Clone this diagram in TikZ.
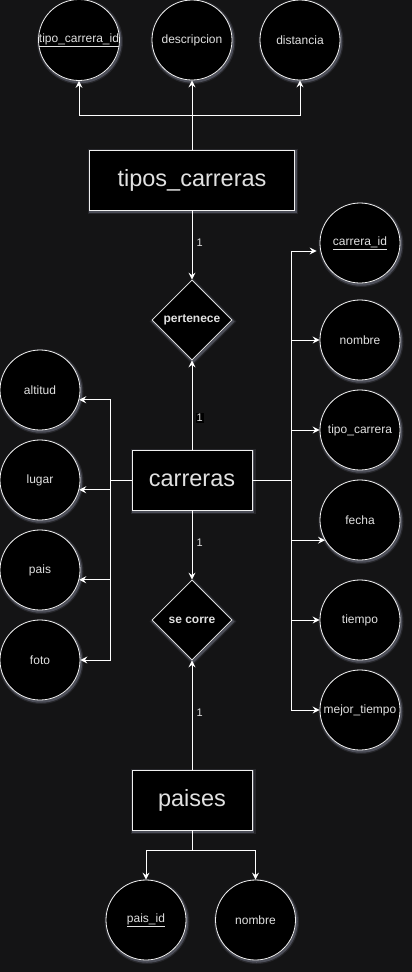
\documentclass[tikz,border=0pt]{standalone}
\usepackage{fontspec}
\setmainfont{Liberation Sans}
\usetikzlibrary{shapes.geometric,arrows.meta}
\definecolor{bgc}{RGB}{20,20,21}
\definecolor{txt}{RGB}{225,225,225}
\definecolor{strk}{RGB}{240,240,240}
\definecolor{glowc}{RGB}{170,175,200}
\begin{document}
\begin{tikzpicture}[x=1pt,y=-1pt,
 glow/.style={preaction={draw=glowc,line width=5pt,opacity=0.12,transform canvas={shift={(1pt,-1.5pt)}}},
              preaction={draw=glowc,line width=2.5pt,opacity=0.3,transform canvas={shift={(1pt,-1.5pt)}}}},
 attr/.style={glow,circle,draw=strk,fill=black,line width=0.8pt,minimum size=80pt,inner sep=0pt,text=txt,font=\fontsize{12}{14}\selectfont},
 ent/.style={glow,rectangle,draw=strk,fill=black,line width=0.8pt,minimum width=120pt,minimum height=60pt,inner sep=0pt,text=txt,font=\fontsize{23.5}{28}\selectfont},
 rel/.style={glow,diamond,aspect=1,draw=strk,fill=black,line width=0.8pt,minimum size=80pt,inner sep=0pt,text=txt,font=\bfseries\fontsize{12}{14}\selectfont},
 conn/.style={draw=white,line width=1pt},
 arr/.style={conn,-{Stealth[length=7pt,width=7pt,inset=2.5pt]}},
 card/.style={text=txt,font=\fontsize{11}{13}\selectfont,inner sep=1pt}
]
\fill[bgc] (0,0) rectangle (412,972);
\useasboundingbox (0,0) rectangle (412,972);

% top attributes
\node[attr] (tid) at (79,40) {\underline{tipo\_carrera\_id}};
\node[attr] (desc) at (192,40) {descripcion};
\node[attr] (dist) at (300,40) {distancia};
\node[ent,minimum width=205pt] (tc) at (192,180) {tipos\_carreras};
\coordinate (t1) at (192,115);

\node[rel] (pert) at (192,320) {pertenece};
\node[ent] (car) at (192,480) {carreras};
\node[rel] (sec) at (192,620) {se corre};
\node[ent] (pai) at (192,800) {paises};

% left attributes
\node[attr] (alt) at (40,390) {altitud};
\node[attr] (lug) at (40,480) {lugar};
\node[attr] (pais) at (40,570) {pais};
\node[attr] (foto) at (40,660) {foto};
\coordinate (L) at (110,480);

% right attributes
\node[attr] (cid) at (360,243) {\underline{carrera\_id}};
\node[attr] (nom) at (360,340) {nombre};
\node[attr] (tipc) at (360,430) {tipo\_carrera};
\node[attr] (fec) at (360,520) {fecha};
\node[attr] (tie) at (360,620) {tiempo};
\node[attr] (mej) at (360,710) {mejor\_tiempo};
\coordinate (R) at (291,480);

% bottom attributes
\node[attr] (pid) at (146,920) {\underline{pais\_id}};
\node[attr] (pnom) at (255.5,920) {nombre};
\coordinate (p1) at (192,850);

% connectors top
\draw[conn] (tc.north) -- (t1);
\draw[arr] (t1) -| (tid.south);
\draw[arr] (t1) -- (desc.south);
\draw[arr] (t1) -| (dist.south);

% relations
\draw[arr] (tc.south) -- node[card,pos=0.46,right=3pt]{1} (pert.north);
\draw[arr] (car.north) -- node[card,pos=0.356,right=3pt,fill=black]{1} (pert.south);
\draw[arr] (car.south) -- node[card,pos=0.47,right=3pt]{1} (sec.north);
\draw[arr] (pai.north) -- node[card,pos=0.52,right=3pt]{1} (sec.south);

% left
\draw[conn] (car.west) -- (L);
\draw[arr] (L) |- (alt.-14);
\draw[arr] (L) |- (lug.-14);
\draw[arr] (L) |- (pais.-14);
\draw[arr] (L) |- (foto.east);

% right
\draw[conn] (car.east) -- (R);
\draw[arr] (R) |- ([xshift=-3pt,yshift=-8pt]cid.west);
\draw[arr] (R) |- (nom.west);
\draw[arr] (R) |- (tipc.west);
\draw[arr] (R) |- (fec.210);
\draw[arr] (R) |- (tie.west);
\draw[arr] (R) |- (mej.west);

% bottom
\draw[conn] (pai.south) -- (p1);
\draw[arr] (p1) -| (pid.north);
\draw[arr] (p1) -| (pnom.north);
\end{tikzpicture}
\end{document}
